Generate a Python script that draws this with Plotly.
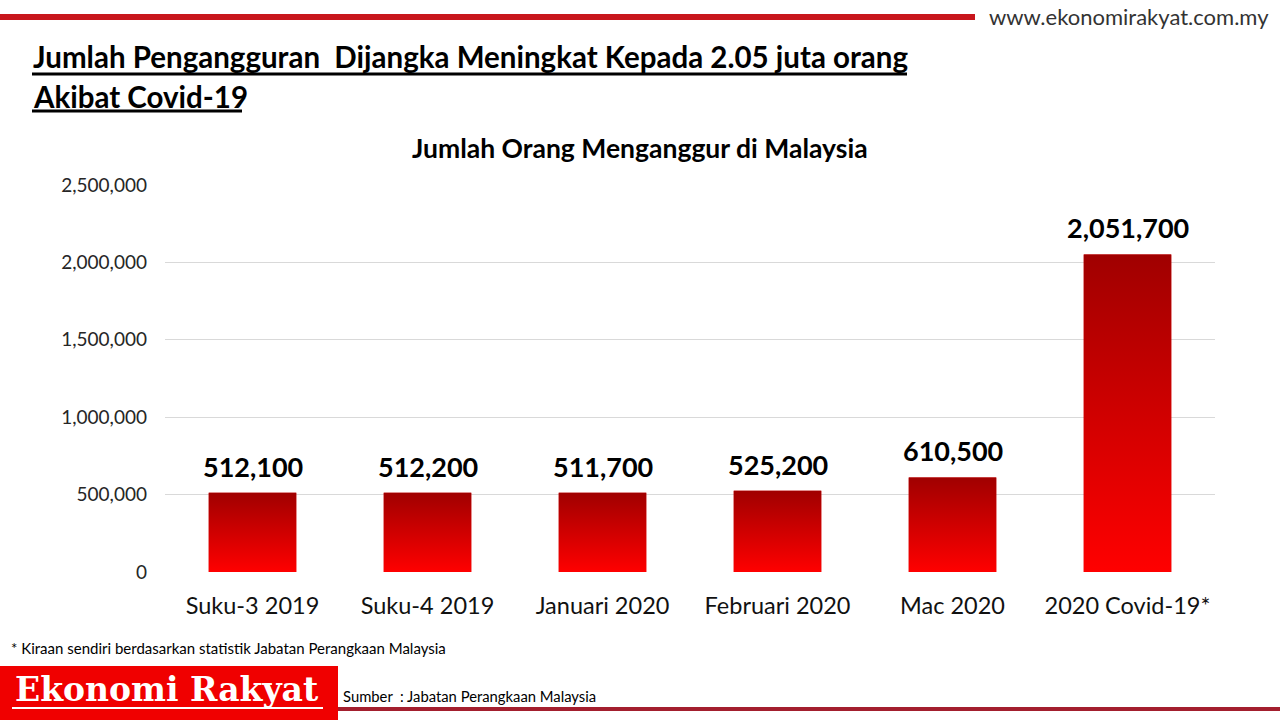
import plotly.graph_objects as go

# data
categories = ["Suku-3 2019", "Suku-4 2019", "Januari 2020", "Februari 2020", "Mac 2020", "2020 Covid-19*"]
jumlah = [512100, 512200, 511700, 525200, 610500, 2051700]
y_ticks = [0, 500000, 1000000, 1500000, 2000000, 2500000]

W, H = 1280, 720
L, R, T, B = 165, 65, 185, 148
FONT = "Lato"


# pixel -> paper coords (paper = plot area)
def px(x):
    return (x - L) / (W - L - R)


def py(y):
    return (H - B - y) / (H - T - B)


xs = list(range(len(categories)))
bar_w = 0.5

fig = go.Figure()
fig.add_trace(go.Bar(
    x=xs,
    y=jumlah,
    width=bar_w,
    marker=dict(color="#d60000", line=dict(width=0)),
    hoverinfo="x+y",
    showlegend=False,
))

# gradient fill on top of each bar
for i, v in zip(xs, jumlah):
    fig.add_trace(go.Scatter(
        x=[i - bar_w / 2, i + bar_w / 2, i + bar_w / 2, i - bar_w / 2, i - bar_w / 2],
        y=[0, 0, v, v, 0],
        mode="lines",
        line=dict(width=0, color="rgba(0,0,0,0)"),
        fill="toself",
        fillgradient=dict(type="vertical", colorscale=[[0, "#ff0000"], [1, "#a00000"]]),
        hoverinfo="skip",
        showlegend=False,
    ))

fig.update_layout(
    width=W,
    height=H,
    margin=dict(l=L, r=R, t=T, b=B),
    paper_bgcolor="white",
    plot_bgcolor="white",
    font=dict(family=FONT, color="#222222"),
    bargap=0.5,
    xaxis=dict(
        range=[-0.5, len(categories) - 0.5],
        tickvals=xs,
        ticktext=categories,
        tickfont=dict(family=FONT, size=23.5, color="#111111"),
        showgrid=False,
        zeroline=False,
        showline=False,
        ticks="",
        ticklabelstandoff=17,
    ),
    yaxis=dict(
        range=[0, 2500000],
        tickvals=y_ticks,
        tickformat=",",
        tickfont=dict(family=FONT, size=19, color="#262626"),
        showgrid=True,
        gridcolor="#d9d9d9",
        gridwidth=1,
        zeroline=False,
        showline=False,
        ticks="",
        ticklabelstandoff=17,
    ),
)

# value labels above bars
value_labels = [
    dict(text=f"<b>{v:,}</b>", x=i, y=v, xref="x", yref="y",
         xanchor="center", yanchor="bottom", yshift=8, showarrow=False,
         font=dict(family=FONT, size=27, color="black"))
    for i, v in zip(xs, jumlah)
]

annotations = [
    dict(text="<b>Jumlah Pengangguran  Dijangka Meningkat Kepada 2.05 juta orang</b>",
         x=px(31), y=py(57), xanchor="left", yanchor="middle",
         font=dict(family=FONT, size=29.5, color="black")),
    dict(text="<b>Akibat Covid-19</b>",
         x=px(31), y=py(96), xanchor="left", yanchor="middle",
         font=dict(family=FONT, size=29.5, color="black")),
    dict(text="<b>Jumlah Orang Menganggur di Malaysia</b>",
         x=px(640), y=py(148), xanchor="center", yanchor="middle",
         font=dict(family=FONT, size=26.5, color="black")),
    dict(text="www.ekonomirakyat.com.my",
         x=px(1271), y=py(17), xanchor="right", yanchor="middle",
         font=dict(family=FONT, size=22, color="#333333")),
    dict(text="* Kiraan sendiri berdasarkan statistik Jabatan Perangkaan Malaysia",
         x=px(9), y=py(648), xanchor="left", yanchor="middle",
         font=dict(family=FONT, size=15, color="black")),
    dict(text="Sumber  : Jabatan Perangkaan Malaysia",
         x=px(341), y=py(696), xanchor="left", yanchor="middle",
         font=dict(family=FONT, size=14.8, color="black")),
    dict(text="<b>Ekonomi Rakyat</b>",
         x=px(167), y=py(689), xanchor="center", yanchor="middle",
         font=dict(family="DejaVu Serif", size=33, color="white")),
]
for a in annotations:
    a.update(xref="paper", yref="paper", showarrow=False)
fig.update_layout(annotations=value_labels + annotations)

shapes = [
    # top red rule
    dict(type="rect", x0=px(0), x1=px(975), y0=py(14), y1=py(20),
         fillcolor="#c8161d", line=dict(width=0)),
    # heading underlines
    dict(type="line", x0=px(32), x1=px(907), y0=py(74), y1=py(74),
         line=dict(color="black", width=3)),
    dict(type="line", x0=px(32), x1=px(242), y0=py(111), y1=py(111),
         line=dict(color="black", width=3)),
    # bottom logo box
    dict(type="rect", x0=px(0), x1=px(338), y0=py(666), y1=py(720),
         fillcolor="#f00000", line=dict(width=0)),
    dict(type="line", x0=px(12), x1=px(323), y0=py(708), y1=py(708),
         line=dict(color="white", width=2)),
    # bottom dark red rule
    dict(type="rect", x0=px(338), x1=px(1280), y0=py(707), y1=py(711),
         fillcolor="#a31f2e", line=dict(width=0)),
]
for s in shapes:
    s.update(xref="paper", yref="paper")
fig.update_layout(shapes=shapes)

fig.write_html("out.html", config={"displayModeBar": False},
               post_script="document.body.style.margin='0';")
